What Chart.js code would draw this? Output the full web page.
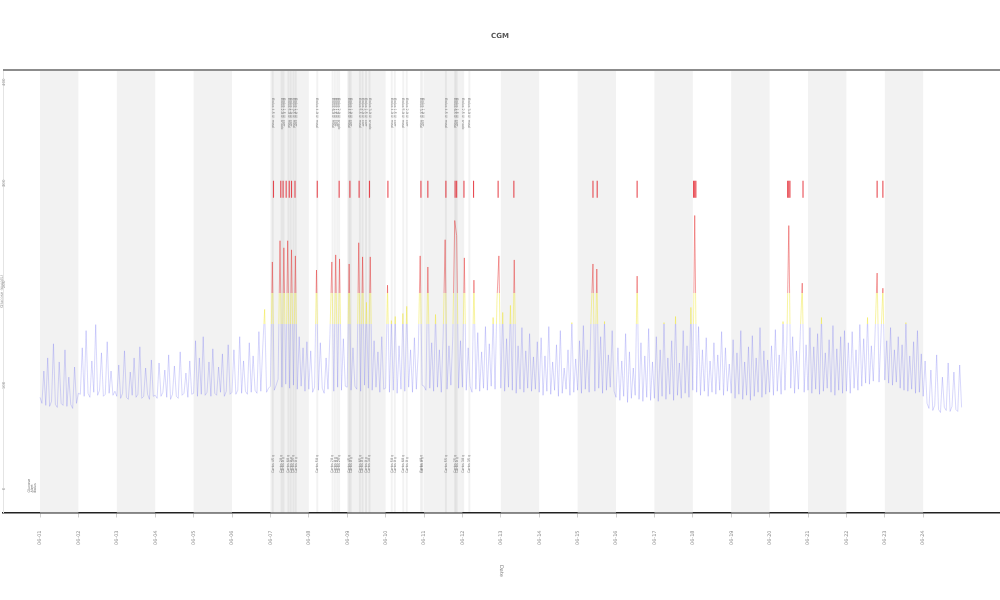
<!DOCTYPE html>
<html>
<head>
<meta charset="utf-8">
<script src="https://cdn.jsdelivr.net/npm/chart.js@4.4.0/dist/chart.umd.min.js"></script>
<style>
html,body{margin:0;padding:0;background:#fff;}
#wrap{width:1000px;height:600px;position:relative;}
</style>
</head>
<body>
<div id="wrap"><canvas id="c" width="1000" height="600"></canvas></div>
<script>
// ---------- data ----------
const chartTitle = 'CGM';
const yTitle = 'Glucose (mg/dL)';
const xTitle = 'Date';
const xLabels = ['06-01','06-02','06-03','06-04','06-05','06-06','06-07','06-08','06-09','06-10','06-11','06-12',
                 '06-13','06-14','06-15','06-16','06-17','06-18','06-19','06-20','06-21','06-22','06-23','06-24'];
const yTicks = [0, 100, 200, 300, 400];
const sampleStepDays = 0.05;
// glucose readings, one row per day (20 readings per day)
const glucose = [
  92,86,118,84,131,83,88,145,85,82,127,86,84,139,83,112,85,81,122,86,
  96,95,141,93,158,96,92,128,97,164,94,99,136,93,95,147,96,118,94,98,
  93,124,91,96,138,92,90,117,94,131,92,95,142,91,93,121,95,90,129,93,
  94,91,126,93,97,119,92,134,90,95,123,93,91,137,94,96,116,92,128,95,
  96,148,93,131,95,152,94,97,127,93,140,96,94,122,97,135,93,98,144,95,
  97,139,95,99,152,96,128,98,95,146,97,133,99,96,157,98,141,179,97,101,
  103,226,99,104,110,247,102,240,105,247,101,238,104,232,100,152,103,141,98,147,
  100,138,97,102,218,99,146,101,96,131,100,154,226,98,233,102,229,99,150,103,
  102,224,99,141,103,100,245,98,231,104,186,101,231,99,148,102,137,97,152,100,
  101,203,97,168,99,172,96,143,100,175,98,182,102,139,97,151,100,136,232,104,
  103,99,221,101,146,98,174,102,139,97,155,248,100,143,104,152,267,252,101,148,
  102,230,99,141,103,97,208,100,156,98,137,101,162,99,145,103,171,100,188,232,
  101,176,98,150,102,183,99,228,96,143,100,161,97,138,101,155,98,132,100,147,
  97,151,94,133,98,162,95,127,99,144,93,158,96,121,100,139,94,166,97,130,
  99,148,96,163,100,139,97,171,224,98,219,101,152,96,167,99,134,102,158,98,
  92,141,89,128,93,155,87,137,91,121,94,212,90,146,88,133,92,160,89,127,
  91,152,88,139,93,166,90,131,95,148,89,172,94,126,91,158,96,143,92,181,
  99,272,97,162,94,139,98,151,93,128,97,146,95,134,99,157,94,141,98,125,
  96,149,91,136,95,158,90,127,94,142,89,153,93,131,97,161,92,138,95,129,
  97,143,94,159,98,134,95,167,99,148,262,101,152,96,138,100,157,205,97,144,
  99,161,96,142,100,155,95,171,98,136,101,149,97,163,94,140,99,152,96,158,
  98,146,96,157,101,139,99,164,103,150,106,171,105,143,108,159,215,107,152,200,
  109,148,106,161,104,139,107,152,101,144,99,166,98,133,100,147,96,158,97,135,
  93,128,86,81,119,79,84,134,80,77,112,82,79,126,78,83,117,80,78,124,
  82
];
const highThreshold = 195;
const elevatedThreshold = 165;
const shadedDayStarts = [0,2,4,6,8,10,12,14,16,18,20,22];
const alertLevel = 298;
const alertDays = [6.08,6.27,6.33,6.41,6.49,6.55,6.64,7.22,7.79,8.07,8.31,8.58,9.06,9.92,10.10,10.57,10.81,10.85,
                   11.04,11.29,11.93,12.34,14.40,14.51,15.55,17.02,17.05,17.08,19.47,19.50,19.53,19.87,21.80,21.95];
const eventDays = [6.06,6.29,6.34,6.47,6.53,6.60,6.66,7.22,7.62,7.68,7.74,7.79,8.05,8.09,8.33,8.40,8.49,8.58,
                   9.16,9.24,9.46,9.55,9.92,9.96,10.57,10.81,10.85,11.02,11.18];
const eventNotes = ['Bolus 4.5 U  meal','Bolus 2.0 U  snack','Bolus 1.5 U  corr','Bolus 5.0 U  meal','Bolus 1.0 U  corr',
  'Bolus 3.5 U  meal','Bolus 1.0 U  corr','Bolus 4.0 U  meal','Bolus 6.0 U  meal','Bolus 1.5 U  corr','Bolus 1.0 U  corr',
  'Bolus 2.0 U  snack','Bolus 4.5 U  meal','Bolus 1.0 U  corr','Bolus 5.5 U  meal','Bolus 2.0 U  corr','Bolus 1.5 U  corr',
  'Bolus 3.0 U  snack','Bolus 4.0 U  meal','Bolus 1.5 U  corr','Bolus 5.0 U  meal','Bolus 2.0 U  corr','Bolus 3.5 U  meal',
  'Bolus 1.0 U  corr','Bolus 4.5 U  meal','Bolus 6.5 U  meal','Bolus 1.5 U  corr','Bolus 2.5 U  snack','Bolus 3.0 U  meal'];
const eventCarbs = ['Carbs 45 g','Carbs 20 g','Carbs 0 g','Carbs 60 g','Carbs 0 g','Carbs 35 g','Carbs 0 g','Carbs 50 g',
  'Carbs 70 g','Carbs 0 g','Carbs 0 g','Carbs 25 g','Carbs 45 g','Carbs 0 g','Carbs 65 g','Carbs 0 g','Carbs 0 g','Carbs 30 g',
  'Carbs 50 g','Carbs 0 g','Carbs 60 g','Carbs 0 g','Carbs 40 g','Carbs 0 g','Carbs 55 g','Carbs 75 g','Carbs 0 g','Carbs 30 g','Carbs 35 g'];
const legendLabels = ['Glucose','Alert','Bolus'];
const eventTopValue = 388;
const eventBottomValue = 17;

// ---------- styles ----------
const BLUE = 'rgba(90,90,240,0.40)';
const YELLOW = 'rgba(238,228,40,0.72)';
const RED = 'rgba(228,35,35,0.72)';

const points = glucose.map((v, i) => ({x: i * sampleStepDays, y: v}));
const alerts = alertDays.map(d => ({x: d, y: alertLevel}));

function lineGradient(context) {
  const chart = context.chart;
  const {ctx, chartArea, scales} = chart;
  if (!chartArea) return BLUE;
  const top = chartArea.top, bottom = chartArea.bottom, h = bottom - top;
  const fr = Math.min(1, Math.max(0, (scales.y.getPixelForValue(highThreshold) - top) / h));
  const fy = Math.min(1, Math.max(0, (scales.y.getPixelForValue(elevatedThreshold) - top) / h));
  const g = ctx.createLinearGradient(0, top, 0, bottom);
  g.addColorStop(0, RED); g.addColorStop(fr, RED);
  g.addColorStop(fr, YELLOW); g.addColorStop(fy, YELLOW);
  g.addColorStop(fy, BLUE); g.addColorStop(1, BLUE);
  return g;
}

const decor = {
  id: 'decor',
  beforeDatasetsDraw(chart) {
    const {ctx, chartArea: a, scales: {x}} = chart;
    ctx.save();
    ctx.fillStyle = '#f2f2f2';
    shadedDayStarts.forEach(d => {
      const x0 = x.getPixelForValue(d), x1 = x.getPixelForValue(d + 1);
      ctx.fillRect(x0, a.top, x1 - x0, a.bottom - a.top);
    });
    ctx.strokeStyle = 'rgba(0,0,0,0.05)';
    ctx.lineWidth = 2;
    eventDays.forEach(d => {
      const px = x.getPixelForValue(d);
      ctx.beginPath(); ctx.moveTo(px, a.top); ctx.lineTo(px, a.bottom); ctx.stroke();
    });
    ctx.restore();
  },
  afterDatasetsDraw(chart) {
    const {ctx, chartArea: a, scales: {x, y}} = chart;
    ctx.save();
    // top frame line
    ctx.strokeStyle = '#8c8c8c';
    ctx.lineWidth = 2;
    ctx.beginPath(); ctx.moveTo(a.left, a.top); ctx.lineTo(a.right, a.top); ctx.stroke();
    // event annotations (rotated tiny text)
    ctx.fillStyle = '#777';
    ctx.font = '3.4px "DejaVu Sans"';
    ctx.textBaseline = 'middle';
    ctx.textAlign = 'left';
    const yt = y.getPixelForValue(eventTopValue), yb = y.getPixelForValue(eventBottomValue);
    eventDays.forEach((d, i) => {
      const px = x.getPixelForValue(d);
      ctx.save(); ctx.translate(px, yt); ctx.rotate(Math.PI / 2); ctx.fillText(eventNotes[i], 0, 0); ctx.restore();
      ctx.save(); ctx.translate(px, yb); ctx.rotate(-Math.PI / 2); ctx.fillText(eventCarbs[i], 0, 0); ctx.restore();
    });
    // small legend block
    ctx.fillStyle = '#666';
    ctx.font = '3.4px "DejaVu Sans"';
    legendLabels.forEach((t, i) => {
      ctx.save(); ctx.translate(a.left + 26 + i * 3.2, a.bottom - 20); ctx.rotate(-Math.PI / 2); ctx.fillText(t, 0, 0); ctx.restore();
    });
    ctx.restore();
  },
  afterDraw(chart) {
    const {ctx, chartArea: a} = chart;
    ctx.save();
    ctx.fillStyle = '#777';
    ctx.font = '5px "DejaVu Sans"';
    ctx.textBaseline = 'middle';
    ctx.textAlign = 'left';
    ctx.translate((a.left + a.right) / 2, 565);
    ctx.rotate(Math.PI / 2);
    ctx.fillText(xTitle, 0, 0);
    ctx.restore();
  }
};

new Chart(document.getElementById('c'), {
  type: 'line',
  data: {
    datasets: [
      {
        label: 'Glucose',
        data: points,
        borderColor: lineGradient,
        borderWidth: 0.6,
        pointRadius: 0,
        tension: 0,
        fill: false,
        order: 2
      },
      {
        type: 'scatter',
        label: 'Alert',
        data: alerts,
        pointStyle: 'line',
        rotation: 90,
        radius: 8.5,
        borderColor: 'rgba(226,30,40,0.8)',
        borderWidth: 1.1,
        order: 1
      }
    ]
  },
  options: {
    responsive: false,
    animation: false,
    devicePixelRatio: 1,
    layout: {autoPadding: false, padding: {left: 0, right: 0, top: 0, bottom: 42}},
    plugins: {
      legend: {display: false},
      tooltip: {enabled: false},
      title: {
        display: true,
        text: chartTitle,
        color: '#555',
        font: {family: 'DejaVu Sans', size: 7, weight: 'bold'},
        padding: {top: 32, bottom: 29.6}
      }
    },
    scales: {
      x: {
        type: 'linear',
        min: -0.964,
        max: 25.0,
        afterBuildTicks: s => { s.ticks = xLabels.map((_, i) => ({value: i})); },
        afterFit: s => { s.paddingLeft = 0; s.paddingRight = 0; },
        ticks: {
          callback: v => xLabels[v] ?? '',
          font: {family: 'DejaVu Sans', size: 5},
          color: '#888',
          minRotation: 90,
          maxRotation: 90,
          padding: 13,
          autoSkip: false
        },
        grid: {display: true, drawOnChartArea: false, tickLength: 5, color: '#cfcfcf'},
        border: {display: true, color: '#222', width: 1.6},
        title: {display: false}
      },
      y: {
        type: 'linear',
        min: -22,
        max: 416,
        afterBuildTicks: s => { s.ticks = yTicks.map(v => ({value: v})); },
        afterFit: s => { s.width = 3; s.paddingTop = 0; s.paddingBottom = 0; },
        ticks: {
          mirror: true,
          padding: 1,
          minRotation: 90,
          maxRotation: 90,
          font: {family: 'DejaVu Sans', size: 4},
          color: '#999'
        },
        grid: {display: false},
        border: {display: true, color: '#e4e4e4', width: 1},
        title: {
          display: true,
          text: yTitle,
          color: '#999',
          font: {family: 'DejaVu Sans', size: 4},
          padding: {top: 0, bottom: 0}
        }
      }
    }
  },
  plugins: [decor]
});
</script>
</body>
</html>
